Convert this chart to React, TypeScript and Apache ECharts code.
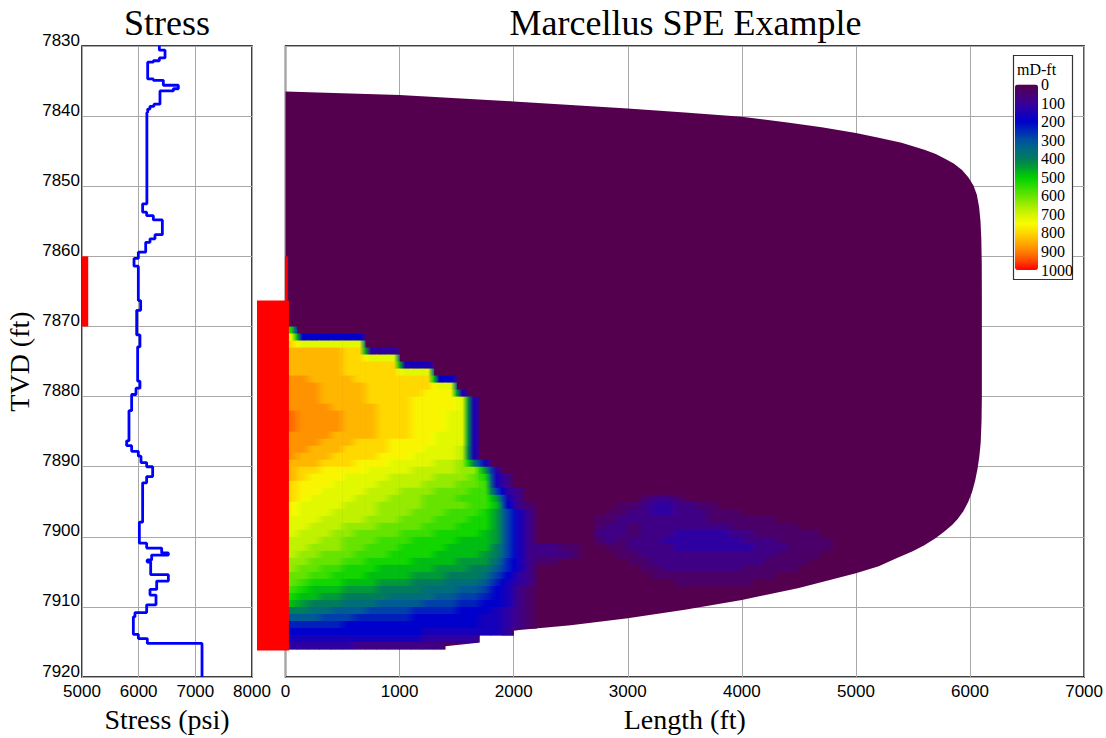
import React, { useEffect, useRef } from 'react';
import * as echarts from 'echarts';

// ---------- axes ----------
const DEPTH_MIN = 7830;
const DEPTH_MAX = 7920;
const DEPTH_STEP = 10;
const STRESS_MIN = 5000;
const STRESS_MAX = 8000;
const STRESS_STEP = 1000;
const LENGTH_MIN = 0;
const LENGTH_MAX = 7000;
const LENGTH_STEP = 1000;
const COND_MIN = 0;
const COND_MAX = 1000;
const COND_STEP = 100;

// ---------- stress log (psi, TVD ft) ----------
const stressTrace: number[][] = [
  [6365, 7830.0], [6365, 7830.6], [6465, 7830.6], [6465, 7831.7], [6365, 7831.7], [6365, 7832.1],
  [6259, 7832.1], [6259, 7832.3], [6159, 7832.3], [6159, 7834.7], [6259, 7834.7], [6259, 7834.9],
  [6435, 7834.9], [6435, 7835.6], [6700, 7835.6], [6700, 7836.1], [6612, 7836.1], [6612, 7836.4],
  [6376, 7836.4], [6376, 7838.3], [6270, 7838.3], [6270, 7838.6], [6200, 7838.6], [6200, 7839.0],
  [6159, 7839.0], [6159, 7839.5], [6145, 7839.5], [6145, 7852.5], [6070, 7852.5], [6070, 7853.7],
  [6141, 7853.7], [6141, 7854.2], [6259, 7854.2], [6259, 7854.8], [6418, 7854.8], [6418, 7856.9],
  [6288, 7856.9], [6288, 7857.5], [6200, 7857.5], [6200, 7858.0], [6124, 7858.0], [6124, 7859.4],
  [5994, 7859.4], [5994, 7860.3], [5918, 7860.3], [5918, 7861.4], [5994, 7861.4], [5994, 7866.3],
  [6035, 7866.3], [6035, 7867.7], [5965, 7867.7], [5965, 7871.2], [6023, 7871.2], [6023, 7872.9],
  [5982, 7872.9], [5982, 7877.8], [6023, 7877.8], [6023, 7878.8], [5953, 7878.8], [5953, 7879.7],
  [5876, 7879.7], [5876, 7882.0], [5829, 7882.0], [5829, 7886.3], [5788, 7886.3], [5788, 7887.0],
  [5876, 7887.0], [5876, 7887.8], [5994, 7887.8], [5994, 7888.5], [6041, 7888.5], [6041, 7889.4],
  [6141, 7889.4], [6141, 7890.0], [6247, 7890.0], [6247, 7891.4], [6141, 7891.4], [6141, 7892.3],
  [6070, 7892.3], [6070, 7897.9], [6012, 7897.9], [6012, 7900.9], [6141, 7900.9], [6141, 7901.6],
  [6406, 7901.6], [6406, 7902.3], [6524, 7902.3], [6524, 7902.6], [6229, 7902.6], [6229, 7903.3],
  [6150, 7903.3], [6150, 7903.6], [6212, 7903.6], [6212, 7905.4], [6524, 7905.4], [6524, 7906.3],
  [6318, 7906.3], [6318, 7907.5], [6200, 7907.5], [6200, 7908.3], [6306, 7908.3], [6306, 7909.7],
  [6141, 7909.7], [6141, 7910.8], [5935, 7910.8], [5935, 7911.4], [5906, 7911.4], [5906, 7913.9],
  [5994, 7913.9], [5994, 7914.5], [6153, 7914.5], [6153, 7915.2], [6318, 7915.2], [7118, 7915.2],
  [7118, 7920.0],
];

// perforated interval marker on stress track: [psiFrom, psiTo, depthTop, depthBottom]
const stressMarker: number[][] = [[5000, 5110, 7860, 7870]];

// perforations in fracture view: [lenFrom, lenTo, depthTop, depthBottom]
const perforations: number[][] = [
  [-250, 30, 7866.3, 7916.2],
  [-5, 20, 7860, 7866.3],
];

// fracture outline (length ft, TVD ft)
const fractureOutline: number[][] = [
  [0, 7836.5], [1000, 7837.0], [2000, 7837.9], [3000, 7838.9], [3500, 7839.5], [4000, 7840.1],
  [4400, 7840.9], [4700, 7841.6], [5000, 7842.4], [5200, 7843.1], [5400, 7843.8], [5600, 7844.8],
  [5700, 7845.4], [5785, 7846.1], [5860, 7846.8], [5930, 7847.7], [5985, 7848.7], [6030, 7849.9],
  [6060, 7851.2], [6080, 7853.0], [6092, 7855.0], [6099, 7857.5], [6103, 7861.0], [6104, 7866.0],
  [6104, 7880.0], [6101, 7883.5], [6094, 7886.5], [6082, 7888.5], [6066, 7890.3], [6045, 7892.0],
  [6018, 7893.6], [5985, 7895.0], [5940, 7896.4], [5890, 7897.5], [5843, 7898.3], [5770, 7899.3],
  [5697, 7900.2], [5600, 7901.2], [5493, 7902.1], [5350, 7903.1], [5200, 7904.2], [5000, 7905.2],
  [4500, 7907.3], [4000, 7909.0], [3500, 7910.4], [3000, 7911.6], [2500, 7912.6], [2050, 7913.3],
  [1700, 7914.0], [1690, 7915.1], [1400, 7915.6], [1000, 7915.9], [0, 7916.0],
];

// conductivity field (mD-ft). One string per 1-ft row starting at FIELD_TOP,
// one character per 100-ft cell: a=0, b=40, c=80 ... z=1000; '.' = no cell (background)
const FIELD_TOP = 7870;
const CELL_LEN = 100;
const CELL_DEPTH = 1;
const FIELD_CODES = 'abcdefghijklmnopqrstuvwxyz';
const CODE_STEP = 40;
const fieldRows: string[] = [
  'n',
  'tffffff',
  'ussssss',
  'vvvvvuuddd',
  'vvvvvuusss',
  'vvvvvuuuuueee',
  'vvvvvuuuuusss',
  'wwvvvvuuuuuuuff',
  'wwwvvvvuuuuuuss',
  'wwwvvvvuuuuuttte',
  'wwwvvvvuuuuttttse',
  'wwwwvvvvuuuttttse',
  'xwwwwvvvuuutttsse',
  'xwwwwvvvuuutttsse',
  'xwwwwvvvuuutttsse',
  'wwwwvvvvuuuttssse',
  'wwwvvvuuuttttssse',
  'wwvvvuuuutttsssre',
  'wvvvuuuutttssssre',
  'vvvuuutttssssrrqke',
  'vuuttttssssrrrrqqld',
  'vutttssssrrrrqqqpnec',
  'utttssssrrrrqqqppoec',
  'uttssssrrrqqqpppoohdc',
  'utssssrrrqqqpppooolec..........bccb',
  'tssssrrrqqqqppppoomfcb.......bbcddccbb',
  'tsssrrrrqqqpppooonlhec......bbccddcccbbb',
  'sssrrrrqqqpppooonnlhec.....bbccccccccbbbbbb',
  'ssrrrqqqppppooonnnlhec.....bccbccccccccbbbbbb',
  'srrrqqppppooonnnnmlhec.....cccbcccdddddccbbbbbb',
  'rrrqqpppooonnnnmmmlhec.....bcbcccdddddddcccbbbbb',
  'rrqqqppooonnnnmmmmkhecccbb..bbccccdddddddcccbbbb',
  'rqqpppooonnnnmmmmlkheccccb...bbccccccccccccbbbb',
  'qqpppoonnnnmmmmllljgecbb......bbccccccccccbbbb',
  'qppoonnnmmmmmlllkkigec.........bbcccccccbbbbb',
  'ppoonnnmmmmlllkkkjhfdc..........bbbbbbbbbbb',
  'ponnnmmmlllkkkjjjigedc............bbbbbbb',
  'onmmmlllkkkkjjjiihfecb',
  'nmmllkkkkjjjjiihhgfecb',
  'mlkkkjjjiiiihhhggffecb',
  'kkjjiiihhhhggggfffedcb',
  'iiihhhgggggffffffeedcb',
  'gggggffffffffffffeedcb',
  'ffffffffffffeeeeeeed',
  'eeeeeeeeeeeeddddd',
  'ddddddcccccccc',
];

// colour scale 0..1000 mD-ft in steps of 50
const colorStops: string[] = [
  '#55004f', '#48006f', '#3a0096', '#1d00b4', '#0000cc', '#0028b8', '#0050a0', '#006a80',
  '#007c5c', '#00a030', '#00d000', '#30dc00', '#66e400', '#a0ec00', '#d4f500', '#f8fc00',
  '#ffd800', '#ffae00', '#ff8000', '#ff4800', '#ff0000',
];
const BACKGROUND_COLOR = '#55004f';

const SERIF = 'Liberation Serif, Times New Roman, serif';
const SANS = 'Liberation Sans, Arial, sans-serif';

function codeValue(ch: string | undefined): number | null {
  if (ch === undefined) return null;
  const i = FIELD_CODES.indexOf(ch);
  return i < 0 ? null : i * CODE_STEP;
}

// each cell: [length, depth, value, leftNeighbour, rightNeighbour]
function buildCells(): number[][] {
  const cells: number[][] = [];
  fieldRows.forEach((row, i) => {
    const depth = FIELD_TOP + i * CELL_DEPTH;
    for (let k = 0; k < row.length; k++) {
      const v = codeValue(row[k]);
      if (v === null) continue;
      const left = k === 0 ? v : (codeValue(row[k - 1]) ?? 0);
      const right = codeValue(row[k + 1]) ?? 0;
      cells.push([k * CELL_LEN, depth, v, left, right]);
    }
  });
  return cells;
}

function colorOf(v: number): string {
  const t = Math.max(0, Math.min(1, (v - COND_MIN) / (COND_MAX - COND_MIN)));
  return echarts.color.lerp(t, colorStops) as string;
}

function rectItem(api: any, x0: number, x1: number, d0: number, d1: number, fill: string) {
  const p0 = api.coord([x0, d0]);
  const p1 = api.coord([x1, d1]);
  return {
    type: 'rect',
    shape: { x: p0[0], y: p0[1], width: p1[0] - p0[0], height: p1[1] - p0[1] },
    style: { fill },
  };
}

const plainNumber = (v: number) => String(v);

export default function App() {
  const ref = useRef<HTMLDivElement>(null);

  useEffect(() => {
    if (!ref.current) return;
    const chart = echarts.init(ref.current, null, { renderer: 'svg' });
    const splitLine = { show: true, lineStyle: { color: '#a8a8a8', width: 1 } };
    const tickLabel = { color: '#000', fontFamily: SANS, fontSize: 17, formatter: plainNumber };
    const nameStyle = { color: '#000', fontFamily: SERIF, fontSize: 28 };

    const option: any = {
      animation: false,
      backgroundColor: '#fff',
      grid: [
        { left: 82, top: 46, width: 170, height: 633, show: true, borderColor: '#000', borderWidth: 1.5, backgroundColor: 'transparent' },
        { left: 285.5, top: 46, width: 800, height: 633, show: true, borderColor: '#000', borderWidth: 1.5, backgroundColor: 'transparent' },
        { left: 1037, top: 84.5, width: 1, height: 185.5 },
      ],
      xAxis: [
        {
          gridIndex: 0, type: 'value', min: STRESS_MIN, max: STRESS_MAX, interval: STRESS_STEP,
          name: 'Stress (psi)', nameLocation: 'middle', nameGap: 27, nameTextStyle: nameStyle,
          axisLine: { show: false }, axisTick: { show: false },
          axisLabel: { ...tickLabel, margin: 6 }, splitLine,
        },
        {
          gridIndex: 1, type: 'value', min: LENGTH_MIN, max: LENGTH_MAX, interval: LENGTH_STEP,
          name: 'Length (ft)', nameLocation: 'middle', nameGap: 27, nameTextStyle: nameStyle,
          axisLine: { show: false }, axisTick: { show: false },
          axisLabel: { ...tickLabel, margin: 6 }, splitLine,
        },
        { gridIndex: 2, type: 'value', show: false },
      ],
      yAxis: [
        {
          gridIndex: 0, type: 'value', min: DEPTH_MIN, max: DEPTH_MAX, interval: DEPTH_STEP, inverse: true,
          name: 'TVD (ft)', nameLocation: 'middle', nameGap: 49, nameTextStyle: nameStyle,
          axisLine: { show: false }, axisTick: { show: false },
          axisLabel: { ...tickLabel, margin: 2, verticalAlign: 'bottom', lineHeight: 12 }, splitLine,
        },
        {
          gridIndex: 1, type: 'value', min: DEPTH_MIN, max: DEPTH_MAX, interval: DEPTH_STEP, inverse: true,
          axisLine: { show: false }, axisTick: { show: false }, axisLabel: { show: false }, splitLine,
        },
        {
          gridIndex: 2, type: 'value', min: COND_MIN, max: COND_MAX, interval: COND_STEP, inverse: true,
          position: 'right', z: 10,
          axisLine: { show: false }, axisTick: { show: false }, splitLine: { show: false },
          axisLabel: { color: '#000', fontFamily: SERIF, fontSize: 16, margin: 3, formatter: plainNumber },
        },
      ],
      visualMap: {
        type: 'continuous', seriesIndex: 3, dimension: 2, min: COND_MIN, max: COND_MAX,
        inverse: true, orient: 'vertical', left: 1015, top: 84.5, itemWidth: 23, itemHeight: 185.5,
        padding: 0, calculable: false, hoverLink: false, z: 10,
        inRange: { color: colorStops },
      },
      graphic: [
        { type: 'text', x: 167, y: 23, style: { text: 'Stress', fontFamily: SERIF, fontSize: 36, fill: '#000', align: 'center', verticalAlign: 'middle' } },
        { type: 'text', x: 685.5, y: 23, style: { text: 'Marcellus SPE Example', fontFamily: SERIF, fontSize: 36, fill: '#000', align: 'center', verticalAlign: 'middle' } },
        { type: 'rect', z: 5, shape: { x: 1013.5, y: 55.5, width: 59, height: 224 }, style: { fill: '#fff', stroke: '#333', lineWidth: 1.2 } },
        { type: 'text', z: 11, x: 1017, y: 69, style: { text: 'mD-ft', fontFamily: SERIF, fontSize: 16, fill: '#000', align: 'left', verticalAlign: 'middle' } },
      ],
      series: [
        {
          type: 'line', xAxisIndex: 0, yAxisIndex: 0, data: stressTrace, showSymbol: false, symbol: 'none',
          lineStyle: { color: '#0000ff', width: 2.8 }, z: 3,
        },
        {
          type: 'custom', xAxisIndex: 0, yAxisIndex: 0, data: stressMarker, encode: { x: [0, 1], y: [2, 3] },
          renderItem: (_p: any, api: any) => rectItem(api, api.value(0), api.value(1), api.value(2), api.value(3), '#ff0000'),
        },
        {
          type: 'custom', xAxisIndex: 1, yAxisIndex: 1, data: fractureOutline, encode: { x: 0, y: 1 },
          renderItem: (params: any, api: any) => {
            if (params.dataIndex !== 0) return null;
            const pts = fractureOutline.map((p) => api.coord(p));
            return { type: 'polygon', shape: { points: pts }, style: { fill: BACKGROUND_COLOR } };
          },
        },
        {
          type: 'custom', xAxisIndex: 1, yAxisIndex: 1, data: buildCells(), encode: { x: 0, y: 1 },
          renderItem: (_p: any, api: any) => {
            const x0 = api.value(0);
            const d0 = api.value(1);
            const v = api.value(2);
            const left = api.value(3);
            const right = api.value(4);
            const p0 = api.coord([x0, d0]);
            const p1 = api.coord([x0 + CELL_LEN, d0 + CELL_DEPTH]);
            return {
              type: 'rect',
              shape: { x: p0[0] - 0.3, y: p0[1], width: p1[0] - p0[0] + 0.6, height: p1[1] - p0[1] + 0.6 },
              style: {
                fill: {
                  type: 'linear', x: 0, y: 0, x2: 1, y2: 0,
                  colorStops: [
                    { offset: 0, color: colorOf((left + v) / 2) },
                    { offset: 0.5, color: colorOf(v) },
                    { offset: 1, color: colorOf((v + right) / 2) },
                  ],
                },
              },
            };
          },
        },
        {
          type: 'custom', xAxisIndex: 1, yAxisIndex: 1, data: perforations, encode: { x: [0, 1], y: [2, 3] }, clip: false, z: 4,
          renderItem: (_p: any, api: any) => rectItem(api, api.value(0), api.value(1), api.value(2), api.value(3), '#ff0000'),
        },
      ],
    };
    chart.setOption(option);
    return () => chart.dispose();
  }, []);

  return (
    <div
      ref={ref}
      style={{ position: 'fixed', left: 0, top: 0, width: 1106, height: 738, background: '#fff' }}
    />
  );
}
